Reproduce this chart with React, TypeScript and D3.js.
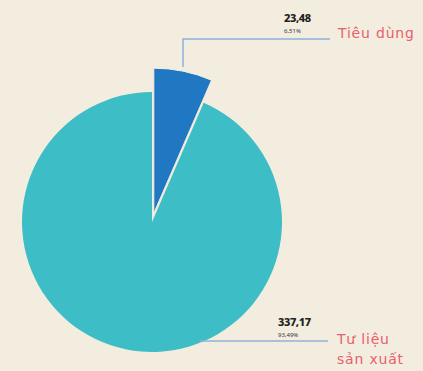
import React from "react";
import * as d3 from "d3";

const categories = ["Tiêu dùng", "Tư liệu sản xuất"];
const values = [23.48, 337.17];
const valueLabels = ["23,48", "337,17"];
const percentLabels = ["6,51%", "93,49%"];
const colors = ["#2077c2", "#3dbdc5"];

export default function App() {
  const W = 423, H = 371;
  const cx = 152, cy = 222, R = 130;
  const pie = d3.pie<number>().sort(null)(values);
  const arcMain = d3.arc<d3.PieArcDatum<number>>().innerRadius(0).outerRadius(R);
  const arcBig = d3.arc<d3.PieArcDatum<number>>().innerRadius(0).outerRadius(145);
  const small = pie[0];
  const mid = (small.startAngle + small.endAngle) / 2;
  const off = 9;
  const ox = off * Math.sin(mid), oy = -off * Math.cos(mid);
  return (
    <svg width={W} height={H} style={{ position: "absolute", left: 0, top: 0, background: "#f3ede0" }}>
      <rect width={W} height={H} fill="#f3ede0" />
      <g transform={`translate(${cx},${cy})`}>
        <path d={arcMain(pie[1]) as string} fill={colors[1]} />
        <g transform={`translate(${ox},${oy})`}>
          <path d={arcBig(small) as string} fill={colors[0]} stroke="#f3ede0" strokeWidth={1} />
        </g>
      </g>
      <polyline points="183,67 183,39 330,39" fill="none" stroke="#8fb0d6" strokeWidth={1.5} />
      <polyline points="200,341 328,341" fill="none" stroke="#8fb0d6" strokeWidth={1.5} />
      <g fontFamily="'Noto Sans', sans-serif">
        <text x={284} y={22} fontSize={11} fontWeight={800} fill="#222" letterSpacing={-0.4}>{valueLabels[0]}</text>
        <text x={284} y={33} fontSize={6} fill="#333">{percentLabels[0]}</text>
        <text x={278} y={326} fontSize={11} fontWeight={800} fill="#222" letterSpacing={-0.4}>{valueLabels[1]}</text>
        <text x={278} y={337} fontSize={6} fill="#333">{percentLabels[1]}</text>
      </g>
      <g fontFamily="'DejaVu Sans', sans-serif" fontSize={14} fill="#e8606a" letterSpacing={0.8}>
        <text x={338} y={38}>{categories[0]}</text>
        <text x={337} y={344}>Tư liệu</text>
        <text x={337} y={364}>sản xuất</text>
      </g>
    </svg>
  );
}
